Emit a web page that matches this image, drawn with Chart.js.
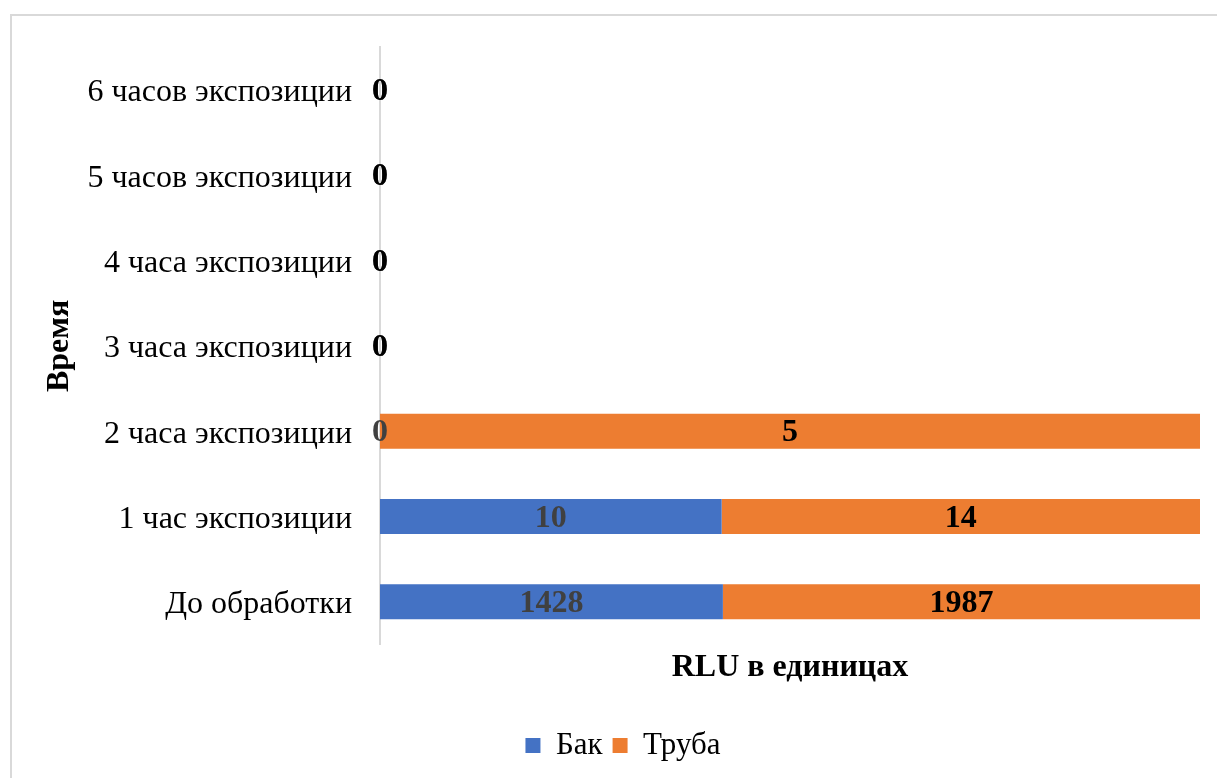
<!DOCTYPE html>
<html>
<head>
<meta charset="utf-8">
<script src="https://cdn.jsdelivr.net/npm/chart.js@4/dist/chart.umd.min.js"></script>
<style>
  html, body { margin: 0; padding: 0; background: #ffffff; }
  body { width: 1217px; height: 778px; position: relative; overflow: hidden; }
  #frame {
    position: absolute; left: 10px; top: 14px; width: 1300px; height: 900px;
    border-top: 2px solid #d9d9d9; border-left: 2px solid #d9d9d9;
    box-sizing: border-box;
  }
  #wrap { position: absolute; left: 0; top: 0; width: 1217px; height: 778px; }
</style>
</head>
<body>
<div id="frame"></div>
<div id="wrap"><canvas id="chart" width="1217" height="778"></canvas></div>
<script>
// Time points (bottom to top on the chart)
const categories = [
  'До обработки',
  '1 час экспозиции',
  '2 часа экспозиции',
  '3 часа экспозиции',
  '4 часа экспозиции',
  '5 часов экспозиции',
  '6 часов экспозиции'
];
// RLU readings
const tankValues = [1428, 10, 0, 0, 0, 0, 0];   // Бак
const pipeValues = [1987, 14, 5, 0, 0, 0, 0];   // Труба
const seriesNames = ['Бак', 'Труба'];

const FONT = "'Liberation Serif', 'Times New Roman', serif";

// Share of each series in the row total (100% stacked)
function share(values, other) {
  return values.map((v, i) => {
    const total = v + other[i];
    return total > 0 ? (v / total) * 100 : 0;
  });
}

// Writes the raw reading centred on each bar segment
const valueLabels = {
  id: 'valueLabels',
  afterDatasetsDraw(chart) {
    const ctx = chart.ctx;
    ctx.save();
    ctx.font = 'bold 32px ' + FONT;
    ctx.textAlign = 'center';
    ctx.textBaseline = 'middle';
    chart.data.datasets.forEach((ds, di) => {
      const meta = chart.getDatasetMeta(di);
      meta.data.forEach((bar, i) => {
        const x = (bar.x + bar.base) / 2;
        ctx.fillStyle = ds.labelColor;
        ctx.fillText(String(ds.raw[i]), x, bar.y + 2);
      });
    });
    ctx.restore();
  }
};

// Centre the legend under the plot rather than the whole canvas
const legendShift = {
  id: 'legendShift',
  afterLayout(chart) {
    if (chart.legend) chart.legend.left += 26;
  }
};

new Chart(document.getElementById('chart'), {
  type: 'bar',
  data: {
    labels: categories,
    datasets: [
      {
        label: seriesNames[0],
        data: share(tankValues, pipeValues),
        raw: tankValues,
        backgroundColor: '#4472c4',
        labelColor: '#404040',
        categoryPercentage: 1,
        barPercentage: 0.41
      },
      {
        label: seriesNames[1],
        data: share(pipeValues, tankValues),
        raw: pipeValues,
        backgroundColor: '#ed7d31',
        labelColor: '#000000',
        categoryPercentage: 1,
        barPercentage: 0.41
      }
    ]
  },
  options: {
    indexAxis: 'y',
    responsive: false,
    animation: false,
    layout: { padding: { left: 20, top: 42.5, right: 17, bottom: 7 } },
    scales: {
      x: {
        stacked: true,
        min: 0,
        max: 100,
        ticks: { display: false },
        grid: { display: false, drawTicks: false },
        border: { display: false },
        title: {
          display: true,
          text: 'RLU в единицах',
          color: '#000000',
          font: { family: FONT, size: 32, weight: 'bold' },
          padding: { top: 0, bottom: 33 }
        },
        afterFit(scale) { scale.height = 75.5; }
      },
      y: {
        stacked: true,
        reverse: true,
        ticks: {
          color: '#000000',
          padding: 28,
          labelOffset: 3,
          font: { family: FONT, size: 32 }
        },
        grid: { display: false, drawTicks: false },
        border: { display: true, color: '#d9d9d9', width: 2 },
        title: {
          display: true,
          text: 'Время',
          color: '#000000',
          font: { family: FONT, size: 32, weight: 'bold' },
          padding: { top: 21, bottom: 0 }
        },
        afterFit(scale) { scale.width = 360; }
      }
    },
    plugins: {
      legend: {
        position: 'bottom',
        labels: {
          color: '#000000',
          font: { family: FONT, size: 31 },
          boxWidth: 15,
          boxHeight: 15,
          padding: 10
        }
      },
      tooltip: { enabled: false }
    }
  },
  plugins: [valueLabels, legendShift]
});
</script>
</body>
</html>
